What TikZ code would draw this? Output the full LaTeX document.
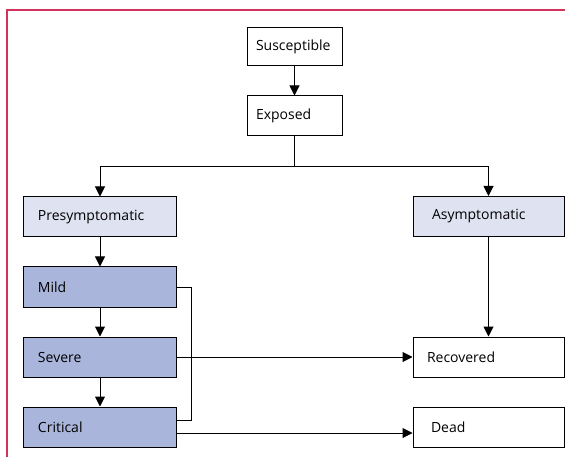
\documentclass[tikz,border=0pt]{standalone}
\usepackage{fontspec}
\setmainfont{Open Sans}
\usepackage{tikz}
\usetikzlibrary{arrows.meta,positioning,calc}
\definecolor{crimsonline}{HTML}{D3325C}
\definecolor{paleblue}{HTML}{DFE2F1}
\definecolor{midblue}{HTML}{A9B5DB}
\tikzset{state/.style={rectangle, draw=black, line width=1bp, minimum height=40bp, align=left, inner xsep=14bp, font=\fontsize{14bp}{16bp}\selectfont},
	flow/.style={-{Triangle[width=10bp,length=10bp]}, line width=1bp}}

\begin{document}
\begin{tikzpicture}[x=1bp,y=-1bp]
		\useasboundingbox (0,0) rectangle (565,457);
		\draw[draw=crimsonline, line width=1.2bp] (565,10) -- (7,10) -- (7,457);
		\node[state, text width=77bp, inner xsep=9bp, minimum height=38bp] (susc) at (294.5,46.5) {Susceptible};
		\node[state, text width=77bp, inner xsep=9bp] (expo) at (294.5,116) {Exposed};
		\node[state, fill=paleblue, text width=124bp] (presym) at (100,217) {Presymptomatic};
		\node[state, fill=midblue, text width=124bp] (mild) at (100,287) {Mild};
		\node[state, fill=midblue, text width=124bp] (severe) at (100,357) {Severe};
		\node[state, fill=midblue, text width=124bp] (critical) at (100,427) {Critical};
		\node[state, fill=paleblue, text width=113bp, inner xsep=19bp] (asym) at (488.5,216.5) {Asymptomatic};
		\node[state, text width=123bp, inner xsep=14bp] (recov) at (488.5,357) {Recovered};
		\node[state, text width=115bp, inner xsep=18bp] (dead) at (488.5,427.5) {Dead};
		\coordinate (split) at (294.5,167);
		\draw[flow] (susc) -- (expo);
		\draw[line width=1bp] (expo) -- (split);
		\draw[flow] (split) -| (presym);
		\draw[flow] (split) -| (asym);
		\draw[flow] (presym) -- (mild);
		\draw[flow] (mild) -- (severe);
		\draw[flow] (severe) -- (critical);
		\draw[flow] (asym) -- (recov);
		\draw[line width=1bp] (mild.east) -- ++(15,0) |- ([yshift=7bp]critical.east);
		\draw[flow] (severe.east) -- (recov.west);
		\draw[flow] ([yshift=-6bp]critical.east) -- ([yshift=-6bp]critical.east -| dead.west);
		\end{tikzpicture}
\end{document}
